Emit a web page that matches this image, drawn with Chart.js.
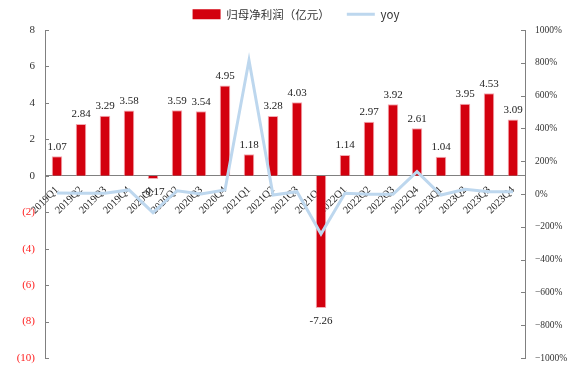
<!DOCTYPE html>
<html>
<head>
<meta charset="utf-8">
<script src="https://cdn.jsdelivr.net/npm/chart.js@4/dist/chart.umd.min.js"></script>
<style>
  html, body { margin: 0; padding: 0; background: #fff; }
  #wrap { width: 570px; height: 365px; position: relative; }
</style>
</head>
<body>
<div id="wrap"><canvas id="c"></canvas></div>
<script>
const categories = ['2019Q1','2019Q2','2019Q3','2019Q4','2020Q1','2020Q2','2020Q3','2020Q4','2021Q1','2021Q2','2021Q3','2021Q4','2022Q1','2022Q2','2022Q3','2022Q4','2023Q1','2023Q2','2023Q3','2023Q4'];
const netProfit = [1.07, 2.84, 3.29, 3.58, -0.17, 3.59, 3.54, 4.95, 1.18, 3.28, 4.03, -7.26, 1.14, 2.97, 3.92, 2.61, 1.04, 3.95, 4.53, 3.09];
const yoy = [6, 5, 5, 25, -114, 20, 0, 24, 815, -6, 14, -244, 4, -2, -2, 136, -6, 29, 14, 14];
const leftTicks = [-10, -8, -6, -4, -2, 0, 2, 4, 6, 8];
const rightTicks = [-1000, -800, -600, -400, -200, 0, 200, 400, 600, 800, 1000];

const SERIF = '"Liberation Serif", "Times New Roman", serif';
const CJK = '"Noto Sans CJK SC", sans-serif';
const AXIS = '#808080';

const labelPlugin = {
  id: 'barLabels',
  afterDatasetsDraw(chart) {
    const meta = chart.getDatasetMeta(0);
    const ctx = chart.ctx;
    ctx.save();
    ctx.font = '11px ' + SERIF;
    ctx.fillStyle = '#222';
    ctx.textAlign = 'center';
    meta.data.forEach((el, i) => {
      const v = netProfit[i];
      const txt = v.toFixed(2);
      if (v >= 0) {
        ctx.textBaseline = 'bottom';
        ctx.fillText(txt, el.x, el.y - 4);
      } else {
        ctx.textBaseline = 'top';
        ctx.fillText(txt, el.x, el.y + 8);
      }
    });
    ctx.restore();
  }
};

const innerTicks = {
  id: 'innerTicks',
  afterLayout(chart) {
    if (chart.legend) { chart.legend.left += 11; chart.legend.right += 11; }
  },
  afterDraw(chart) {
    const ctx = chart.ctx;
    ctx.save();
    ctx.strokeStyle = AXIS;
    ctx.lineWidth = 1;
    const y = chart.scales.y, y1 = chart.scales.y1;
    leftTicks.forEach(v => {
      const p = Math.round(y.getPixelForValue(v)) + 0.5;
      ctx.beginPath(); ctx.moveTo(y.right, p); ctx.lineTo(y.right + 4, p); ctx.stroke();
    });
    rightTicks.forEach(v => {
      const p = Math.round(y1.getPixelForValue(v)) + 0.5;
      ctx.beginPath(); ctx.moveTo(y1.left, p); ctx.lineTo(y1.left - 4, p); ctx.stroke();
    });
    ctx.restore();
  }
};

function fixY(s) { s.width = 45; s.paddingTop = 30; s.paddingBottom = 0; }

new Chart(document.getElementById('c'), {
  data: {
    labels: categories,
    datasets: [
      {
        type: 'bar',
        label: '归母净利润（亿元）',
        data: netProfit,
        yAxisID: 'y',
        backgroundColor: '#D3000E',
        borderColor: 'rgba(240,150,160,0.8)',
        borderWidth: 1,
        barPercentage: 0.44,
        categoryPercentage: 1,
        order: 1
      },
      {
        type: 'line',
        label: 'yoy',
        data: yoy,
        yAxisID: 'y1',
        borderColor: '#BDD7EE',
        backgroundColor: '#BDD7EE',
        borderWidth: 3,
        pointRadius: 0,
        pointStyle: 'line',
        tension: 0,
        order: 0
      }
    ]
  },
  options: {
    responsive: true,
    maintainAspectRatio: false,
    animation: false,
    layout: { padding: { top: -13, bottom: 7, left: 0, right: 0 } },
    plugins: {
      legend: {
        display: true,
        position: 'top',
        labels: {
          usePointStyle: true,
          pointStyleWidth: 28,
          boxHeight: 10,
          padding: 17,
          color: '#333',
          font: { family: CJK, size: 11.5 },
          sort: (a, b) => a.datasetIndex - b.datasetIndex,
          generateLabels(chart) {
            const items = Chart.defaults.plugins.legend.labels.generateLabels(chart);
            items.forEach(it => {
              if (it.datasetIndex === 0) { it.pointStyle = 'rect'; it.lineWidth = 0; it.strokeStyle = '#D3000E'; }
              else { it.pointStyle = 'line'; it.lineWidth = 3; }
            });
            return items;
          }
        }
      },
      tooltip: { enabled: false }
    },
    scales: {
      x: {
        position: { y: 0 },
        grid: { display: false, drawTicks: false },
        border: { display: true, color: AXIS, width: 1 },
        ticks: {
          autoSkip: false,
          maxRotation: 45,
          minRotation: 45,
          padding: 8,
          color: '#222',
          font: { family: SERIF, size: 10.5 }
        }
      },
      y: {
        type: 'linear',
        position: 'left',
        min: -10,
        max: 8,
        afterFit: fixY,
        afterBuildTicks(s) { s.ticks = leftTicks.map(v => ({ value: v })); },
        grid: { display: false, drawTicks: false },
        border: { display: true, color: AXIS, width: 1 },
        ticks: {
          padding: 10,
          font: { family: SERIF, size: 11 },
          color: c => (c.tick && c.tick.value < 0) ? '#FF2020' : '#333',
          callback: v => v < 0 ? '(' + Math.abs(v) + ')' : String(v)
        }
      },
      y1: {
        type: 'linear',
        position: 'right',
        min: -1000,
        max: 1000,
        afterFit: fixY,
        afterBuildTicks(s) { s.ticks = rightTicks.map(v => ({ value: v })); },
        grid: { display: false, drawTicks: false },
        border: { display: true, color: AXIS, width: 1 },
        ticks: {
          padding: 10,
          font: { family: SERIF, size: 9.5 },
          color: '#333',
          callback: v => (v < 0 ? '\u2212' + Math.abs(v) : String(v)) + '%'
        }
      }
    }
  },
  plugins: [labelPlugin, innerTicks]
});
</script>
</body>
</html>
